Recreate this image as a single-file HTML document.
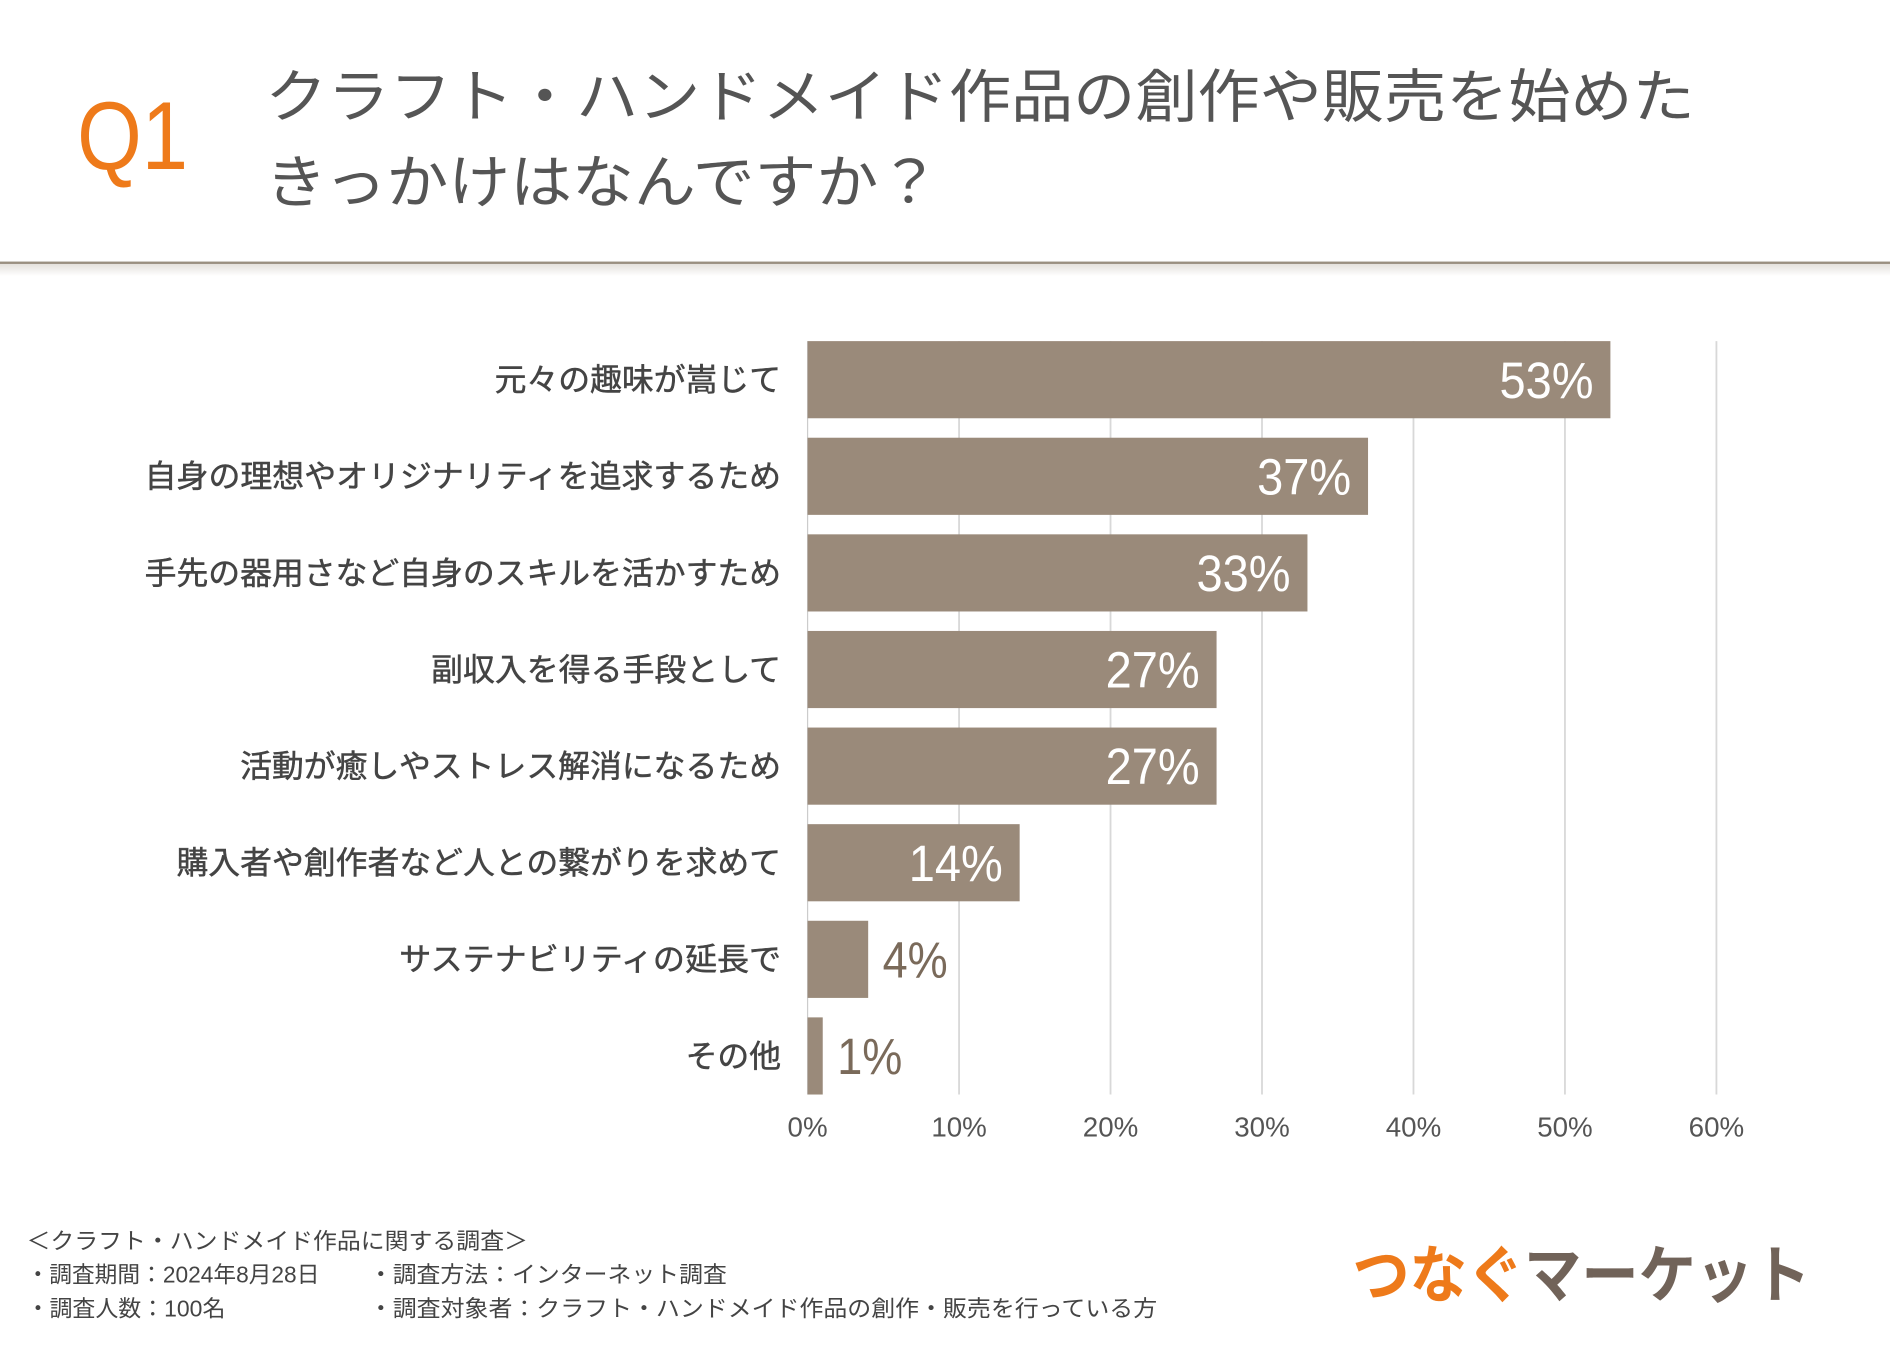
<!DOCTYPE html>
<html lang="ja"><head><meta charset="utf-8">
<style>
html,body{margin:0;padding:0;background:#fff;}
svg{display:block;font-family:"Liberation Sans","Noto Sans CJK JP",sans-serif;}
</style></head>
<body>
<svg id="chart" width="1890" height="1350" viewBox="0 0 1568 1120" preserveAspectRatio="none" xmlns="http://www.w3.org/2000/svg">
  <defs>
    <linearGradient id="sh" x1="0" y1="0" x2="0" y2="1">
      <stop offset="0" stop-color="#e4e1dc"/><stop offset="1" stop-color="#fff"/>
    </linearGradient>
  </defs>
  <text x="64" y="140" font-size="80" fill="#ee7a1a" font-weight="300" textLength="92" lengthAdjust="spacingAndGlyphs">Q1</text>
  <text x="220" y="97" font-size="48" fill="#555" textLength="1186" lengthAdjust="spacingAndGlyphs">クラフト・ハンドメイド作品の創作や販売を始めた</text>
  <text x="220" y="168" font-size="48" fill="#555" textLength="560" lengthAdjust="spacingAndGlyphs">きっかけはなんですか？</text>
  <rect x="0" y="217" width="1568" height="2" fill="#9a9080"/>
  <rect x="0" y="219" width="1568" height="10" fill="url(#sh)"/>
  <g id="grid"></g>
  <g id="bars"></g>
  <g id="labels"></g>
  <g id="ticks"></g>
  <g font-size="19" fill="#444">
    <text x="22" y="1036" textLength="416" lengthAdjust="spacingAndGlyphs">＜クラフト・ハンドメイド作品に関する調査＞</text>
    <text x="22" y="1064" textLength="243" lengthAdjust="spacingAndGlyphs">・調査期間：2024年8月28日</text>
    <text x="306" y="1064" textLength="297" lengthAdjust="spacingAndGlyphs">・調査方法：インターネット調査</text>
    <text x="22" y="1092" textLength="165" lengthAdjust="spacingAndGlyphs">・調査人数：100名</text>
    <text x="306" y="1092" textLength="654" lengthAdjust="spacingAndGlyphs">・調査対象者：クラフト・ハンドメイド作品の創作・販売を行っている方</text>
  </g>
  <text x="1122" y="1076" font-size="52" font-weight="bold" textLength="380" lengthAdjust="spacingAndGlyphs"><tspan fill="#ee7a1a">つなぐ</tspan><tspan fill="#716359">マーケット</tspan></text>
</svg>
<script>
const categories = ["元々の趣味が嵩じて","自身の理想やオリジナリティを追求するため","手先の器用さなど自身のスキルを活かすため","副収入を得る手段として","活動が癒しやストレス解消になるため","購入者や創作者など人との繋がりを求めて","サステナビリティの延長で","その他"];
const values = [53,37,33,27,27,14,4,1];
const tickValues = [0,10,20,30,40,50,60];
const tickLabels = ["0%","10%","20%","30%","40%","50%","60%"];

const NS = "http://www.w3.org/2000/svg";
const X0 = 670, X60 = 1424, TOP = 283, PITCH = 80.15, BH = 64;
function xScale(v){ return X0 + (X60 - X0) * v / 60; }
function yBand(i){ return TOP + PITCH * i; }
function mk(tag, attrs, parent){ const e = document.createElementNS(NS, tag); for (const k in attrs) e.setAttribute(k, attrs[k]); parent.appendChild(e); return e; }
const grid = document.getElementById('grid'), bars = document.getElementById('bars'), labels = document.getElementById('labels'), ticks = document.getElementById('ticks');
const yEnd = yBand(categories.length - 1) + BH;

tickValues.forEach((t, i) => {
  if (t > 0) {
    const g = mk('line', {x1: xScale(t), x2: xScale(t), y1: TOP, y2: yEnd, stroke: '#d8d8d8', 'stroke-width': 1.5}, grid);
    
    
  }
  const tl = mk('text', {x: xScale(t), y: yEnd + 35, 'text-anchor': 'middle', 'font-size': 23, fill: '#555'}, ticks);
  tl.textContent = tickLabels[i];
  
  
});
const axis = mk('line', {x1: X0, x2: X0, y1: TOP, y2: yEnd, stroke: '#ccc', 'stroke-width': 1}, grid);



categories.forEach((c, i) => {
  const y = yBand(i), v = values[i], xe = xScale(v);
  const r = mk('rect', {x: X0, y: y, width: xe - X0, height: BH, fill: '#9a8a7a'}, bars);
  
  
  const lab = mk('text', {x: 648, y: y + BH/2 + 9, 'text-anchor': 'end', 'font-size': 26, fill: '#444', stroke: '#444', 'stroke-width': 0.4, textLength: c.length * 26.4, lengthAdjust: 'spacingAndGlyphs'}, labels);
  lab.textContent = c;
  
  
  const inside = v >= 10;
  const vl = mk('text', {x: inside ? xe - 14 : xe + 12, y: y + BH/2 + 15, 'text-anchor': inside ? 'end' : 'start', 'font-size': 42, fill: inside ? '#fff' : '#7a6a5a', textLength: String(v).length * 24 + 30, lengthAdjust: 'spacingAndGlyphs'}, labels);
  vl.textContent = v + '%';
  
  
});
</script>
</body></html>
